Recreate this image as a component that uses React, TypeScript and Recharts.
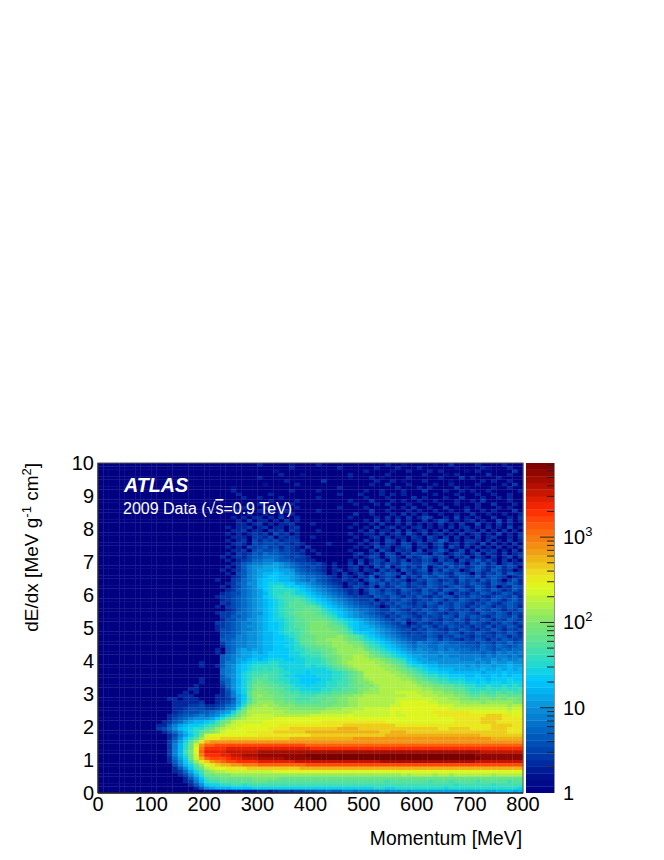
import { ScatterChart, Scatter, XAxis, YAxis } from 'recharts';

// Plot frame in page pixels
const PLOT_LEFT = 98;
const PLOT_TOP = 463;
const PLOT_RIGHT = 523;
const PLOT_BOTTOM = 793;
const BAR_LEFT = 526;
const BAR_RIGHT = 554;
const FONT = '"Liberation Sans", Arial, sans-serif';

const MOMENTUM_BIN = 10; // MeV
const DEDX_BIN = 0.1;
const MAX_COUNT = 7400;
const CODES = '0123456789abcdefghijklmnopqrstuvwxyz';

const momentumTicks = Array.from({ length: 41 }, (_, i) => i * 20);
const dedxTicks = Array.from({ length: 51 }, (_, i) => Math.round(i * 2) / 10);
const countTicks = [
  1, 2, 3, 4, 5, 6, 7, 8, 9, 10, 20, 30, 40, 50, 60, 70, 80, 90, 100, 200, 300, 400, 500, 600, 700, 800, 900, 1000,
  2000, 3000, 4000, 5000, 6000, 7000,
];

// one character per bin = colour level 0..35 on the log z scale, top row is dE/dx 9.9-10
const levelRows = [
  '0000000000 0000000000 0000000000 3000002000 0300000000 0000300200 0002004000 0300003000',
  '0000000000 0000000000 0000000000 0000003000 0000030000 0030003000 3000000200 0032000300',
  '0000000000 0000000000 0000000000 0002000000 0000000000 3000020030 0030300002 0300000040',
  '0000000000 0000000000 0000000000 0000300020 0000000300 0000300000 0300020300 0004000300',
  '0000000000 0000000000 0000000000 3000000000 0000000200 0302000030 0000300040 3000030000',
  '0000000000 0000000000 0000000000 0000030000 0040000000 0030030200 0300002000 0030300300',
  '0000000000 0000000000 0000000000 0200000300 0000000000 0300400030 0003003000 0300003040',
  '0000000000 0000000000 0000020000 0000000000 0000030000 0000003000 3030000402 0000300300',
  '0000000000 0000000000 0000030000 0000003000 0300000000 3003000300 0400030030 3003000003',
  '0000000000 0000000000 0000003000 0030000000 0000030003 0003030300 0003000300 0300300300',
  '0000000000 0000000000 0000000300 3000300000 0300000000 3000300004 0300030040 0030030300',
  '0000000000 0000000000 0000000000 0030000300 0000000300 0400030300 3003000300 3040000300',
  '0000000000 0000000000 0000020030 3000003000 0000000030 0030400030 0300300300 0300400030',
  '0000000000 0000000000 0000000300 0300300300 0000030000 3000030304 0030040003 0300030300',
  '0000000000 0000000000 0000003000 3040030000 0300000000 0400300030 3003003004 0030300040',
  '0000000000 0000000000 0000000030 0300303000 0000000040 0300030403 0300300300 4003003003',
  '0000000000 0000000000 0000030303 3030400300 0000000300 0030403040 3540030503 0300400304',
  '0000000000 0000000000 0000003040 3303040300 0000000000 3040304030 0403540303 4030050403',
  '0000000000 0000000000 0000003303 4030334000 3000000030 0304003040 3030403040 0503040300',
  '0000000000 0000000000 0000303340 3403303400 0000000300 3040340303 4030304034 0304030503',
  '0000000000 0000000000 0000033403 3043404300 0300000003 0403304040 3403040304 3040304030',
  '0000000000 0000000000 0000303034 3405340300 0000000300 3304034053 0403403040 3403050304',
  '0000000000 0000000000 0000033304 4350434300 3000000030 0340403304 3053040403 0403400304',
  '0000000000 0000000000 0000303405 3545344400 0000000300 4030540403 4043650304 4304030403',
  '0000000000 0000000000 0000034305 4554543430 0003000003 0340430540 4304503404 3050403040',
  '0000000000 0000000000 0000303054 5645354304 0000000030 3053403450 3403505304 0403040304',
  '0000000000 0000000000 0000033405 6556454340 3000000300 0405304340 5034640350 4043403040',
  '0000000000 0000000000 0000304346 5766554430 0300000034 0340540435 4305403540 3504304034',
  '0000000000 0000000000 0003034356 6777654543 0000000030 3540453053 4653540435 0430403504',
  '0000000000 0000000000 0000303457 7887665443 3000000304 0354053504 3540534053 4635304030',
  '0000000000 0000000000 0000034678 899a987655 4530300405 0453543654 4654365340 5463504534',
  '0000000000 0000000000 0000304689 9aaa987654 5430300340 3053604535 3604536453 4653463540',
  '0000000000 0000000000 0003034689 aaabaa9765 5430340340 4305340643 5605364503 5643653403',
  '0000000000 0000000000 0000305689 abbcbaa876 6540304034 0354654053 4536543654 0535463654',
  '0000000000 0000000000 0000034689 abccbba987 7654304304 3604540635 3654653465 4635654034',
  '0000000000 0000000000 0030045789 bcccbba987 8654334340 4653645403 5465345364 5364640463',
  '0000000000 0000000000 0000346799 bcdddccaa9 8765430434 0546354635 4365465354 6543654653',
  '0000000000 0000000000 0003045789 bcdeedccba 9876540354 3505346534 5465435653 4653504365',
  '0000000000 0000000000 0000346789 acdeeeedcb a987654340 4653543654 3645365465 3654653464',
  '0000000000 0000000000 0003455789 abdeefeddc ba98765340 3654653545 4653640543 5465346534',
  '0000000000 0000000000 0034456789 acdeffffed cba9876544 4365465354 6435465354 6543565463',
  '0000000000 0000000000 0003456789 abcdeffgfe dcba987654 4504354653 4546535465 4354653564',
  '0000000000 0000000000 0004356789 abcdefgggf edcba98765 5453546543 5465354654 3546435654',
  '0000000000 0000000000 0030456789 abcdefgggg gfdcba9876 6540354654 5354654653 5465354653',
  '0000000000 0000000000 0000346789 abcdeffggh ggedcba987 7654465435 4654653545 3654653546',
  '0000000000 0000000000 0034457789 9bcdefghhh hgfedcba98 7654546543 5465435465 4365465354',
  '0000000000 0000000000 0004466789 abcdeffghh hhgfecba98 8765354654 3545465364 6543565463',
  '0000000000 0000000000 0003557799 abcddefggh hhhgfedcba 9876546535 4654354653 5465354654',
  '0000000000 0000000000 0044567889 abccdefggh iiihgfedcb a987654603 5435465453 6543546535',
  '0000000000 0000000000 0034567899 abccdefggh iiihhgfdcb ba98765435 4653546545 3546354653',
  '0000000000 0000000000 0035567889 abccdeffgh iiiihhgecb bba9876553 5465435465 4354653545',
  '0000000000 0000000000 0005567899 abbcdeefgh iiiiihgfdc cba9876545 4565546535 4654354653',
  '0000000000 0000000000 0005668899 abbccdefgg hiiiijihgf dcba987655 5465354654 3545465354',
  '0000000000 0000000000 0006678899 abbccddfgh hiijjjihgf edcba98765 5576465435 4653546545',
  '0000000000 0000000000 0004678899 abbcccdegg hiiijjjiih fedcba9876 8776776665 5465465756',
  '0000000000 0000000000 0003678899 abbccddefg ghhijjjjii gfedcba987 8877877766 6576576567',
  '0000000000 0000000000 0030679a9a abbcccdeef gghhijjjjj hgfedcba98 9887878777 6676567677',
  '0000000000 0000000000 0030679aab abccccddef ffghijjjjj jhgfedcba9 9988988877 7767687878',
  '0000000000 0000000000 0006789aab bbccccddee ffghhijjkk jihgfedcba a999898888 8878788787',
  '0000000000 0000000000 000678aabc bcdddccdde eefghijjkk kjjihgfecb aa99999988 8988989889',
  '0000000000 0000000003 000688abcd ddeeddddde eefghijkkk kkjjihgfdc baaa999999 9898a99a99',
  '0000000000 0000000003 003689bcde eeeeddddde deefghijkk kkkjjihged dcbbaaaaa9 a9aa9aabaa',
  '0000000000 0000000000 000789bcde efefeddddd dddefghijk kkkkjjihgf edccbbbaaa aabaababab',
  '0000000000 0000000000 000789bdef ffffeedddc ddddeefghi kkkkkjjihg feddccbbbb bbabbbcbbb',
  '0000000000 0000000000 000689bdef fgffeddccc cdddeefghi kkkkkkjjih gfeeddcccb bcbbcbcbcc',
  '0000000000 0000000003 000679bdeg ggffeeddcc ccddeefghi jkkkkkkjji hgffeedddc cccbcccdcc',
  '0000000000 0000000003 000579bdfg hggffeddcc cddeeffghi ijkkkkkkkj iihgffeeed dcdcddcddd',
  '0000000000 0000000030 000479bdfh hhggffeddc dddeeffghh iijkkkkkkk jiihhggffe eddeddeded',
  '0000000000 0000000330 000369bdfh ihhggfeedd ddeeffgghi ijjkkkkkkk kjjiihhggf eeefeefeef',
  '0000000000 0000003030 000358bdgi iihhggffee eeffggghhi jjjkkkllll kkkjjiihhg ffgffgfgff',
  '0000000000 0000033300 003358acgi jiihhgggff fggghhiijj kkkkkkkkll lkkkjjjiih gghgghhggh',
  '0000000000 0003303330 003346acfi iiihhggfff ggghhiijjk kkkkkkllll lllkkkjjii hhiihihiih',
  '0000000000 0000333334 003457adgi jjjiihhggg gghhhiijjk kkkkkklmmm mmllkkkkjj jjijjjjjii',
  '0000000000 0000333445 334578beij jkjjiiihhh hhhhiiijjk kkkkkllmmm mmmmlllkkk kkkkkkkjkk',
  '0000000000 0000334555 445689dhjk kkkjjjiiii iiijjjkkkk lllllmmmmm mmmmmmllll lllllllkll',
  '0000000000 0000345556 6789adgikk kkkkkjjjjj jjkkkkkkll lllllmlmmm mmmnnnnnnn mmmmmmmlmm',
  '0000000000 0003456678 789bdfhjkl lllkkkkkkk lllllllmll lllllmllmm mmmmnnnnnn nnnooonnmm',
  '0000000000 0003567899 9acegijkll lllmmmmmmm mmmmmmmmmm mmmmmmmmmm mmmmmmmnnn nnoooonnnn',
  '0000000000 0034679abb cdfhikllll lmmmmmmmmm mmnnnnnnnn nnnnmmmmmm mmmmmmmnnn nnooonnnnn',
  '0000000000 03368abccd efgikllmmm mmmmnnnnnn nnnnnnoooo oooooonnnn nnnnnnnnnn nnnnoooonn',
  '0000000000 04579bcdee ghjkllmmmm mmnnnnoooo oooooppppo oooooooooo oooonnoooo nnnnooonnn',
  '0000000000 003579bdeg hijlmmmmnn nnnoooooop pppppppppp pppoopppoo oooooooooo ooooooonnn',
  '0000000000 000358aceh lmmmmmmmmm nnnnnnnnnn oooooooooo oooopppppp pppppppppp ppoooooooo',
  '0000000000 000369cegj nnnooooooo oooooopppp ppppppppqq qqqqqqqqqq qqqqqqqqqq qqqqpppppp',
  '0000000000 00047adgjn pqqqqqqqqq qqqqqqqqqq qqqqqqqqqq qqqqqqqqqq qqqqqqqqqq qqqqqqqqqq',
  '0000000000 00048behlq sstttttttt ttttttttts ssssssssss ssssssssss ssssssssss ssssssssss',
  '0000000000 00048behmr uuuuvvvvvv vvvvvvvvvv uuuuuuuuuu uuuuuuuuuu uuuuuuuuuu uuuuuuuuuu',
  '0000000000 00048bfims vvvvwwwwww xxxxxxxxxx xxxxxxxxxx xxxxxxxxxx xxxxxxxxxx xxwwwwwwww',
  '0000000000 00048behlr uuuvvwwxxx yyyyyyyyyz zzzzzzzzzz zzzzzzzzzz zzzzzzzzzz zyyyyyyyyy',
  '0000000000 00037adhlp stttuvvwww xxxxxyyyyy zzzzzzzzzz zzzzzzzzzz zzzzzzzzzz zzyyyyyyyy',
  '0000000000 000369cfjn oqrsttuuuu vvvvvvvwww wwwwwwwwww wwwxxxxxxx xxxxxxxxxx xwwwwwwwww',
  '0000000000 000058bdgj mnoppqqrrr ssssssssst tttttttttt tttttttttt tttttttttt tttttttttt',
  '0000000000 0000369cfh klmmnnnnoo oooooooopp pppppppppp pppppppppp pppppppppp pppppppppp',
  '0000000000 0000347adf ijkkllllll lllmmmmmmm mmmmmmmmmm mmmmmmmmmm mmmmmmmmmm mmmmmmmmmm',
  '0000000000 00000358be hhiiijjjjj jjjjjjjjjj jjjjjjjjjj jjjjjjjkjk kkkjkkjkkk kkkkjkkkkk',
  '0000000000 000000369c fgghhhhhhi iiiihhhhhh hhhhhhhhhh hhhhhhhhhh hhhhhhhhhh hhhhhhhhhh',
  '0000000000 000000348b effgggghgh hhgggggggg gggggggggg ggggfggggg ggfgggfggg gfgggggfgg',
  '0000000000 0000000369 cddeeffeff ffffffffff ffffffffff ffffffffff fffffffeff ffffefffff',
  '0000000000 0000000036 9abbbccccd dddddddddd dddddddddd ddeeddeeee eeeeedeeee eeeeeeeeed',
  '0000000000 0000000000 1101122222 3323443445 5667668878 8889899a9a aaaaaaaaaa aabaabbbab',
];

// colour stops of the z palette: position on the colour bar, then r, g, b
const paletteStops = [
  [0, 0, 0, 130],
  [0.06, 0, 20, 145],
  [0.1, 0, 50, 165],
  [0.17, 0, 90, 190],
  [0.26, 10, 145, 220],
  [0.34, 0, 200, 255],
  [0.4, 40, 220, 200],
  [0.46, 90, 225, 150],
  [0.517, 125, 230, 110],
  [0.6, 200, 245, 50],
  [0.62, 220, 250, 30],
  [0.66, 235, 230, 30],
  [0.73, 240, 160, 20],
  [0.82, 255, 80, 10],
  [0.86, 255, 40, 0],
  [0.93, 180, 15, 0],
  [1, 120, 0, 0],
];

const paletteColor = (f: number) => {
  let i = 0;
  while (i < paletteStops.length - 2 && f > paletteStops[i + 1][0]) i++;
  const a = paletteStops[i];
  const b = paletteStops[i + 1];
  const t = (f - a[0]) / (b[0] - a[0]);
  const mix = (k: number) => Math.round(a[k] + (b[k] - a[k]) * t);
  return `rgb(${mix(1)},${mix(2)},${mix(3)})`;
};

const cells = levelRows.flatMap((row, r) =>
  row
    .replace(/ /g, '')
    .padEnd(80, '0')
    .split('')
    .slice(0, 80)
    .map((code, c) => ({
      momentum: (c + 0.5) * MOMENTUM_BIN,
      dedx: (levelRows.length - r - 0.5) * DEDX_BIN,
      level: CODES.indexOf(code),
    })),
);

const BAR_STEPS = 50;
const barCells = Array.from({ length: BAR_STEPS }, (_, i) => ({
  pos: 0.5,
  count: Math.pow(MAX_COUNT, (i + 0.5) / BAR_STEPS),
  f: (i + 0.5) / BAR_STEPS,
}));

const cellW = (PLOT_RIGHT - PLOT_LEFT) / 80;
const cellH = (PLOT_BOTTOM - PLOT_TOP) / 100;
const stepH = (PLOT_BOTTOM - PLOT_TOP) / BAR_STEPS;
const OVERLAP = 0.3; // hides most of the seams between bins

const HeatCell = (props: any) => (
  <rect
    x={props.cx - cellW / 2}
    y={props.cy - cellH / 2}
    width={cellW + OVERLAP}
    height={cellH + OVERLAP}
    fill={paletteColor(props.payload.level / 35)}
  />
);

const BarStep = (props: any) => (
  <rect
    x={BAR_LEFT}
    y={props.cy - stepH / 2}
    width={BAR_RIGHT - BAR_LEFT}
    height={stepH + OVERLAP}
    fill={paletteColor(props.payload.f)}
  />
);

const MomentumTick = (props: any) => {
  const v = props.payload.value;
  const major = v % 100 === 0;
  return major ? (
    <text x={props.x} y={811} textAnchor="middle" fontFamily={FONT} fontSize={20} fill="#000">
      {v}
    </text>
  ) : (
    <g />
  );
};

const DedxTick = (props: any) => {
  const v = props.payload.value;
  return Number.isInteger(v) ? (
    <text x={94} y={props.y + 7} textAnchor="end" fontFamily={FONT} fontSize={20} fill="#000">
      {v}
    </text>
  ) : (
    <g />
  );
};

const CountTick = (props: any) => {
  const v = props.payload.value;
  const exp = Math.log10(v);
  const major = Number.isInteger(Math.round(exp * 1e6) / 1e6);
  const len = major ? 14 : 7;
  return (
    <g>
      {v > 1 && <line x1={BAR_RIGHT} x2={BAR_RIGHT - len} y1={props.y} y2={props.y} stroke="#222" />}
      {major && (
        <text x={563} y={props.y + 7} fontFamily={FONT} fontSize={20} fill="#000">
          {v < 100 ? (
            v
          ) : (
            <>
              10
              <tspan dy={-8} fontSize={13}>
                {Math.round(exp)}
              </tspan>
            </>
          )}
        </text>
      )}
    </g>
  );
};

// Inward tick marks on all four sides, in a chart laid over the heat map
const FrameXTick = (props: any) => {
  const len = props.payload.value % 100 === 0 ? 9 : 4.5;
  return (
    <g stroke="#111">
      <line x1={props.x} x2={props.x} y1={PLOT_BOTTOM} y2={PLOT_BOTTOM - len} />
      <line x1={props.x} x2={props.x} y1={PLOT_TOP} y2={PLOT_TOP + len} />
    </g>
  );
};

const FrameYTick = (props: any) => {
  const len = Number.isInteger(props.payload.value) ? 14 : 7;
  return (
    <g stroke="#111">
      <line x1={PLOT_LEFT} x2={PLOT_LEFT + len} y1={props.y} y2={props.y} />
      <line x1={PLOT_RIGHT} x2={PLOT_RIGHT - len} y1={props.y} y2={props.y} />
    </g>
  );
};

const layer: any = { position: 'absolute', left: 0, top: 0 };

export default function App() {
  const margin = { left: PLOT_LEFT - 40, top: PLOT_TOP, right: 664 - PLOT_RIGHT, bottom: 860 - PLOT_BOTTOM - 30 };
  return (
    <div style={{ ...layer, width: 664, height: 860, background: '#fff' }}>
      <div style={layer}>
        <ScatterChart width={664} height={860} margin={margin}>
          <Scatter data={cells} dataKey="dedx" shape={HeatCell} isAnimationActive={false} />
          <XAxis
            type="number"
            dataKey="momentum"
            domain={[0, 800]}
            ticks={momentumTicks}
            interval={0}
            height={30}
            tick={MomentumTick}
            tickLine={false}
            axisLine={false}
          />
          <YAxis
            type="number"
            dataKey="dedx"
            domain={[0, 10]}
            ticks={dedxTicks}
            interval={0}
            width={40}
            tick={DedxTick}
            tickLine={false}
            axisLine={false}
          />
        </ScatterChart>
      </div>
      <div style={layer}>
        <ScatterChart width={664} height={860} margin={margin}>
          <XAxis
            type="number"
            dataKey="momentum"
            domain={[0, 800]}
            ticks={momentumTicks}
            interval={0}
            height={30}
            tick={FrameXTick}
            tickLine={false}
            stroke="#111"
          />
          <YAxis
            type="number"
            dataKey="dedx"
            domain={[0, 10]}
            ticks={dedxTicks}
            interval={0}
            width={40}
            tick={FrameYTick}
            tickLine={false}
            stroke="#111"
          />
          <rect
            x={PLOT_LEFT}
            y={PLOT_TOP}
            width={PLOT_RIGHT - PLOT_LEFT}
            height={PLOT_BOTTOM - PLOT_TOP}
            fill="none"
            stroke="#555"
          />
          <text x={124} y={492} fontFamily={FONT} fontSize={19.7} fontWeight="bold" fontStyle="italic" fill="#fff">
            ATLAS
          </text>
          <text x={123} y={514} fontFamily={FONT} fontSize={16} fill="#fff">
            2009 Data (√<tspan style={{ textDecoration: 'overline' }}>s</tspan>=0.9 TeV)
          </text>
          <text x={522} y={845} textAnchor="end" fontFamily={FONT} fontSize={19.3} fill="#000">
            Momentum [MeV]
          </text>
          <text
            x={38}
            y={463}
            textAnchor="end"
            transform="rotate(-90 38 463)"
            fontFamily={FONT}
            fontSize={19}
            fill="#000"
          >
            dE/dx [MeV g
            <tspan dy={-7} fontSize={13}>
              -1
            </tspan>
            <tspan dy={7}> cm</tspan>
            <tspan dy={-7} fontSize={13}>
              2
            </tspan>
            <tspan dy={7}>]</tspan>
          </text>
        </ScatterChart>
      </div>
      <div style={layer}>
        <ScatterChart
          width={664}
          height={860}
          margin={{ left: BAR_LEFT, top: PLOT_TOP, right: 664 - BAR_RIGHT - 60, bottom: 860 - PLOT_BOTTOM }}
        >
          <Scatter data={barCells} dataKey="count" shape={BarStep} isAnimationActive={false} />
          <XAxis type="number" dataKey="pos" domain={[0, 1]} hide />
          <YAxis
            type="number"
            dataKey="count"
            scale="log"
            domain={[1, MAX_COUNT]}
            allowDataOverflow
            ticks={countTicks}
            interval={0}
            orientation="right"
            width={60}
            tick={CountTick}
            tickLine={false}
            stroke="#222"
          />
        </ScatterChart>
      </div>
    </div>
  );
}
